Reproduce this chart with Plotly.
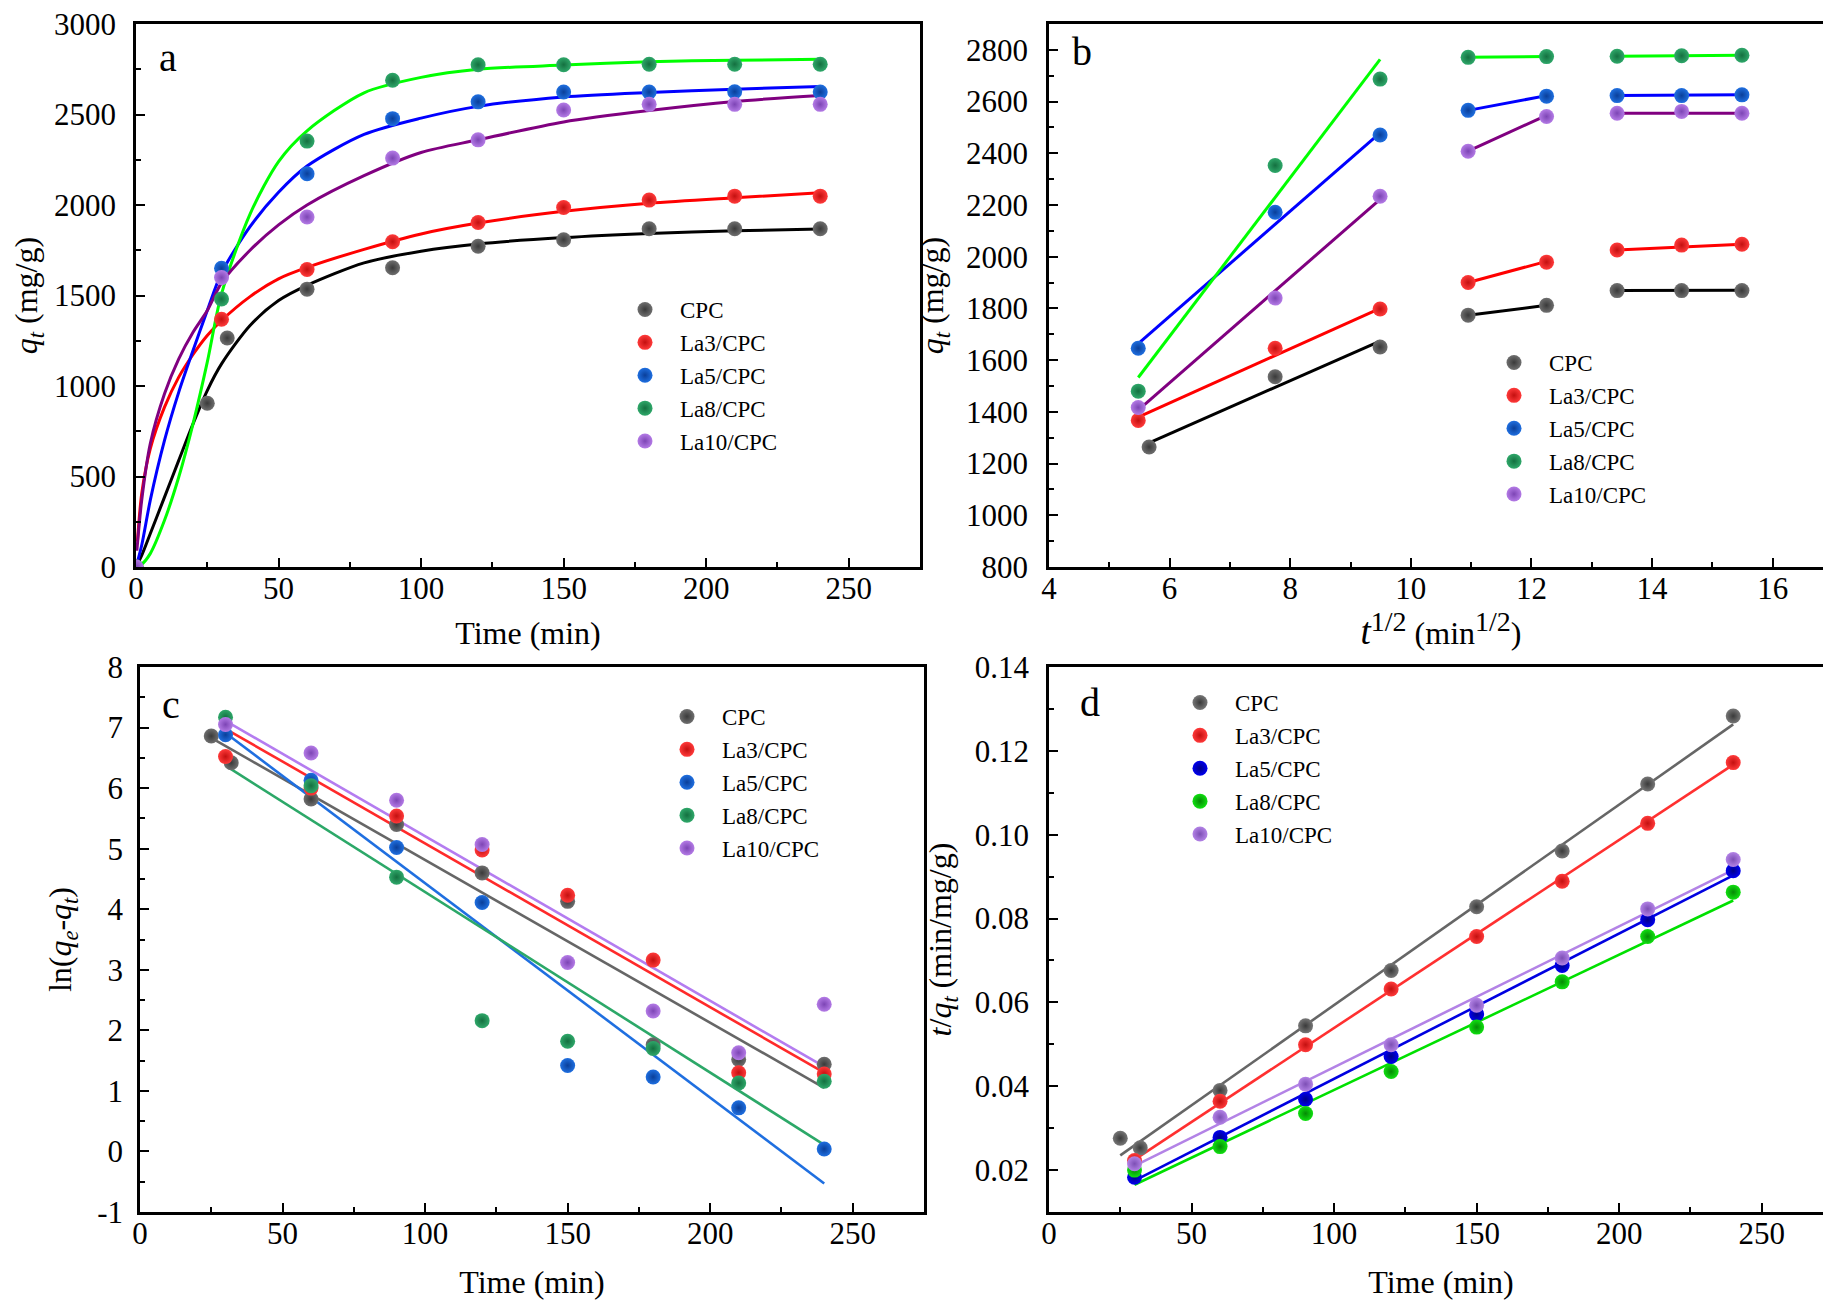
import plotly.graph_objects as go

# ---------------- DATA ----------------
names = ["CPC", "La3/CPC", "La5/CPC", "La8/CPC", "La10/CPC"]

# Panel a: q_t vs time
t_a_cpc = [0, 25, 32, 60, 90, 120, 150, 180, 210, 240]
t_a = [0, 30, 60, 90, 120, 150, 180, 210, 240]
qa_cpc = [0, 905, 1265, 1535, 1653, 1772, 1808, 1869, 1869, 1869]
qa_la3 = [0, 1369, 1644, 1797, 1903, 1986, 2027, 2049, 2049]
qa_la5 = [0, 1650, 2173, 2477, 2570, 2624, 2624, 2626, 2624]
qa_la8 = [0, 1481, 2353, 2689, 2775, 2775, 2778, 2778, 2778]
qa_la10 = [0, 1599, 1934, 2259, 2360, 2525, 2556, 2556, 2556]

# Panel a: fitted curves
fit_t = [0, 2, 5, 10, 15, 20, 25, 30, 40, 50, 60, 80, 100, 120, 150, 180, 210, 240]
fit_t_la3 = [0.5, 2, 5, 10, 15, 20, 25, 30, 40, 50, 60, 80, 100, 120, 150, 180, 210, 240]
fit_t_la10 = [0.3, 2, 5, 10, 15, 20, 25, 30, 40, 50, 60, 80, 100, 120, 150, 180, 210, 240]
fit_cpc = [0, 64, 184, 386, 589, 791, 975, 1122, 1334, 1472, 1556, 1680, 1745, 1785, 1820, 1843, 1858, 1867]
fit_la3 = [140, 405, 653, 883, 1049, 1174, 1279, 1362, 1494, 1592, 1655, 1755, 1840, 1900, 1965, 2010, 2040, 2067]
fit_la5 = [0, 120, 368, 699, 966, 1196, 1417, 1625, 1880, 2070, 2215, 2390, 2480, 2545, 2597, 2622, 2640, 2655]
fit_la8 = [0, 15, 74, 258, 497, 791, 1132, 1509, 1950, 2240, 2410, 2620, 2705, 2750, 2773, 2792, 2800, 2805]
fit_la10 = [90, 368, 681, 957, 1150, 1297, 1417, 1570, 1750, 1890, 2000, 2162, 2290, 2360, 2459, 2522, 2572, 2605]

# Panel b: intraparticle diffusion, q_t vs t^1/2
sb_cpc = [5.66, 7.75, 9.49, 10.95, 12.25, 13.42, 14.49, 15.49]
sb = [5.48, 7.75, 9.49, 10.95, 12.25, 13.42, 14.49, 15.49]
qb_cpc = [1264, 1536, 1651, 1774, 1812, 1869, 1869, 1869]
qb_la3 = [1367, 1646, 1798, 1900, 1979, 2026, 2045, 2048]
qb_la5 = [1646, 2172, 2471, 2566, 2621, 2623, 2623, 2626]
qb_la8 = [1480, 2353, 2687, 2771, 2774, 2775, 2777, 2779]
qb_la10 = [1417, 1840, 2234, 2408, 2542, 2555, 2562, 2555]
# Panel b: fitted segments (x pairs per stage, None separates stages)
segb_x_cpc = [5.66, 9.49, None, 10.95, 12.25, None, 13.42, 15.49]
segb_x = [5.48, 9.49, None, 10.95, 12.25, None, 13.42, 15.49]
segb_cpc = [1280, 1674, None, 1774, 1812, None, 1869, 1870]
segb_la3 = [1380, 1800, None, 1900, 1982, None, 2026, 2048]
segb_la5 = [1664, 2479, None, 2566, 2623, None, 2623, 2626]
segb_la8 = [1533, 2763, None, 2771, 2774, None, 2775, 2779]
segb_la10 = [1407, 2222, None, 2408, 2547, None, 2555, 2555]

# Panel c: pseudo-first-order, ln(qe-qt) vs time
t_c_cpc = [25, 32, 60, 90, 120, 150, 180, 210, 240]
t_c = [30, 60, 90, 120, 150, 180, 210, 240]
lc_cpc = [6.86, 6.42, 5.82, 5.40, 4.60, 4.13, 1.76, 1.52, 1.44]
lc_la3 = [6.52, 6.00, 5.54, 4.98, 4.23, 3.16, 1.30, 1.28]
lc_la5 = [6.88, 6.13, 5.02, 4.11, 1.42, 1.23, 0.72, 0.04]
lc_la8 = [7.17, 6.04, 4.53, 2.16, 1.82, 1.70, 1.13, 1.16]
lc_la10 = [7.05, 6.58, 5.80, 5.07, 3.12, 2.32, 1.63, 2.43]
linc_t_cpc = [25, 240]
linc_t = [30, 240]
linc_cpc = [6.83, 1.05]
linc_la3 = [6.98, 1.30]
linc_la5 = [6.91, -0.53]
linc_la8 = [6.37, 0.11]
linc_la10 = [7.11, 1.40]

# Panel d: pseudo-second-order, t/q_t vs time
t_d_cpc = [25, 32, 60, 90, 120, 150, 180, 210, 240]
t_d = [30, 60, 90, 120, 150, 180, 210, 240]
rd_cpc = [0.0276, 0.0253, 0.0390, 0.0544, 0.0676, 0.0828, 0.0961, 0.1121, 0.1283]
rd_la3 = [0.0223, 0.0364, 0.0499, 0.0632, 0.0757, 0.0889, 0.1027, 0.1172]
rd_la5 = [0.0183, 0.0278, 0.0369, 0.0471, 0.0572, 0.0688, 0.0797, 0.0914]
rd_la8 = [0.0200, 0.0256, 0.0335, 0.0435, 0.0541, 0.0649, 0.0757, 0.0863]
rd_la10 = [0.0215, 0.0326, 0.0405, 0.0499, 0.0593, 0.0706, 0.0823, 0.0941]
lind_t_cpc = [25, 240]
lind_t = [30, 240]
lind_cpc = [0.0235, 0.1263]
lind_la3 = [0.0225, 0.1167]
lind_la5 = [0.0175, 0.0903]
lind_la8 = [0.0165, 0.0843]
lind_la10 = [0.0210, 0.0916]

# tick labels
a_tickvals = [0, 500, 1000, 1500, 2000, 2500, 3000]
a_ticktext = ["0", "500", "1000", "1500", "2000", "2500", "3000"]
c_tickvals = [-1, 0, 1, 2, 3, 4, 5, 6, 7, 8]
c_ticktext = ["-1", "0", "1", "2", "3", "4", "5", "6", "7", "8"]

# ---------------- STYLE ----------------
FONT = "Liberation Serif"
marker_abc = ["#6f6f6f", "#ff3a3a", "#1f6fe0", "#2fa86a", "#b47be6"]
marker_dark_abc = ["#3a3a3a", "#c41010", "#0a3f9a", "#147040", "#7d45b5"]
marker_d = ["#777777", "#ff3a3a", "#0000f0", "#10e010", "#b383e6"]
marker_dark_d = ["#3a3a3a", "#c41010", "#00008a", "#058a05", "#7d4fb5"]
line_ab = ["#000000", "#ff0000", "#0000ff", "#00ff00", "#800080"]
line_c = ["#666666", "#ff2a2a", "#1f6fe0", "#2ca868", "#b47cf0"]
line_d = ["#666666", "#ff3030", "#0000e0", "#00e000", "#b383e6"]

fig = go.Figure()

def add_pts(x, y, i, xa, ya, leg, cols, dcols):
    fig.add_trace(go.Scatter(
        x=x, y=y, mode="markers", name=names[i], xaxis=xa, yaxis=ya, legend=leg,
        marker=dict(size=15, color=cols[i], line=dict(width=0),
                    gradient=dict(type="radial", color=dcols[i]))))

def add_line(x, y, i, xa, ya, cols, width=3, shape="linear"):
    fig.add_trace(go.Scatter(
        x=x, y=y, mode="lines", showlegend=False, xaxis=xa, yaxis=ya,
        line=dict(color=cols[i], width=width, shape=shape, smoothing=0.8),
        connectgaps=False, hoverinfo="skip"))

# Panel a
fits_a = [(fit_t, fit_cpc), (fit_t_la3, fit_la3), (fit_t, fit_la5), (fit_t, fit_la8), (fit_t_la10, fit_la10)]
for i, (fx, fy) in enumerate(fits_a):
    add_line(fx, fy, i, "x", "y", line_ab, 3, "spline")
pts_a = [(t_a_cpc, qa_cpc), (t_a, qa_la3), (t_a, qa_la5), (t_a, qa_la8), (t_a, qa_la10)]
for i, (px, py) in enumerate(pts_a):
    add_pts(px, py, i, "x", "y", "legend", marker_abc, marker_dark_abc)

# Panel b
segs_b = [(segb_x_cpc, segb_cpc), (segb_x, segb_la3), (segb_x, segb_la5), (segb_x, segb_la8), (segb_x, segb_la10)]
for i, (sx, sy) in enumerate(segs_b):
    add_line(sx, sy, i, "x2", "y2", line_ab, 3)
pts_b = [(sb_cpc, qb_cpc), (sb, qb_la3), (sb, qb_la5), (sb, qb_la8), (sb, qb_la10)]
for i, (px, py) in enumerate(pts_b):
    add_pts(px, py, i, "x2", "y2", "legend2", marker_abc, marker_dark_abc)

# Panel c
lins_c = [(linc_t_cpc, linc_cpc), (linc_t, linc_la3), (linc_t, linc_la5), (linc_t, linc_la8), (linc_t, linc_la10)]
for i, (lx, ly) in enumerate(lins_c):
    add_line(lx, ly, i, "x3", "y3", line_c, 2.6)
pts_c = [(t_c_cpc, lc_cpc), (t_c, lc_la3), (t_c, lc_la5), (t_c, lc_la8), (t_c, lc_la10)]
for i, (px, py) in enumerate(pts_c):
    add_pts(px, py, i, "x3", "y3", "legend3", marker_abc, marker_dark_abc)

# Panel d
lins_d = [(lind_t_cpc, lind_cpc), (lind_t, lind_la3), (lind_t, lind_la5), (lind_t, lind_la8), (lind_t, lind_la10)]
for i, (lx, ly) in enumerate(lins_d):
    add_line(lx, ly, i, "x4", "y4", line_d, 2.6)
pts_d = [(t_d_cpc, rd_cpc), (t_d, rd_la3), (t_d, rd_la5), (t_d, rd_la8), (t_d, rd_la10)]
for i, (px, py) in enumerate(pts_d):
    add_pts(px, py, i, "x4", "y4", "legend4", marker_d, marker_dark_d)

W, H = 1831, 1306
def dx(a, b):
    return [a / W, b / W]
def dy(top, bot):
    return [1 - bot / H, 1 - top / H]

def axis(domain, rng, dtick, minor, title, anchor, tick0=0, standoff=10, lab=0, **kw):
    d = dict(domain=domain, range=rng, dtick=dtick, tick0=tick0, anchor=anchor,
             showline=True, linewidth=2.6, linecolor="black", mirror=True,
             ticks="inside", ticklen=9, tickwidth=2.4, tickcolor="black",
             minor=dict(ticks="inside", ticklen=5, tickwidth=2.2, dtick=minor, tickcolor="black", showgrid=False),
             showgrid=False, zeroline=False, ticklabelstandoff=lab, ticklabeloverflow="allow",
             tickfont=dict(family=FONT, size=31, color="black"),
             title=dict(text=title, font=dict(family=FONT, size=32, color="black"), standoff=standoff),
             automargin=False)
    d.update(kw)
    return d

xb_title = ('<span style="font-size:37px"><i>t</i></span><sup><span style="font-size:28px">1/2</span></sup>'
            ' (min<sup><span style="font-size:28px">1/2</span></sup>)')

fig.update_layout(
    width=W, height=H, margin=dict(l=0, r=0, t=0, b=0),
    plot_bgcolor="white", paper_bgcolor="white",
    font=dict(family=FONT, color="black"),
    xaxis=axis(dx(128, 912), [0, 275], 50, 25, "Time (min)", "y", standoff=17, lab=-8),
    yaxis=axis(dy(16, 559), [0, 3000], 500, 250, "<i>q</i><sub><i>t</i></sub> (mg/g)", "x",
               standoff=21, lab=11, tickmode="array", tickvals=a_tickvals, ticktext=a_ticktext),
    xaxis2=axis(dx(1041, 1825), [4, 17], 2, 1, xb_title, "y2",
                tick0=4, standoff=9, lab=-8),
    yaxis2=axis(dy(16, 559), [800, 2900], 200, 100, "<i>q</i><sub><i>t</i></sub> (mg/g)", "x2",
                tick0=800, standoff=13, lab=12),
    xaxis3=axis(dx(132, 916), [0, 275], 50, 25, "Time (min)", "y3", standoff=21, lab=-8),
    yaxis3=axis(dy(659, 1204), [-1, 8], 1, 0.5, "ln(<i>q</i><sub><i>e</i></sub>-<i>q</i><sub><i>t</i></sub>)", "x3",
                tickmode="array", tickvals=c_tickvals, ticktext=c_ticktext, standoff=16, lab=8),
    xaxis4=axis(dx(1041, 1825), [0, 275], 50, 25, "Time (min)", "y4", standoff=21, lab=-8),
    yaxis4=axis(dy(659, 1204), [0.01, 0.14], 0.02, 0.01, "<i>t</i>/<i>q</i><sub><i>t</i></sub> (min/mg/g)", "x4",
                tick0=0.02, tickformat=".2f", standoff=14, lab=11),
)

def leg(x, y):
    return dict(x=x / W, y=1 - y / H, xanchor="left", yanchor="top", bgcolor="rgba(0,0,0,0)",
                font=dict(family=FONT, size=23, color="black"), borderwidth=0, itemwidth=60)

fig.update_layout(legend=leg(602, 280), legend2=leg(1471, 333),
                  legend3=leg(644, 687), legend4=leg(1157, 673))

labels = [("a", 160, 50), ("b", 1074, 44), ("c", 163, 696), ("d", 1082, 694)]
for txt, x, y in labels:
    fig.add_annotation(text=txt, x=x / W, y=1 - y / H, xref="paper", yref="paper",
                       showarrow=False, xanchor="center", yanchor="middle",
                       font=dict(family=FONT, size=40, color="black"))

fig.write_html("out.html")
